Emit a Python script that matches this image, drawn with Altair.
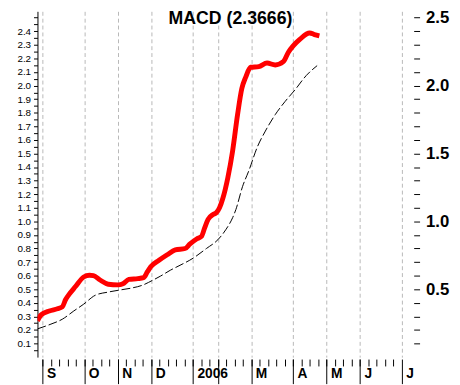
import altair as alt
import pandas as pd

# MACD line (red), x in weeks from start of September
red_weeks = [-0.62, -0.19, 0.79, 1.76, 2.35, 2.75, 3.14, 3.93, 4.91, 5.61, 6.08, 6.87, 7.85,
             9.02, 9.61, 10.32, 11.38, 12.08, 12.55, 12.94, 13.93, 14.91, 15.88, 17.06, 17.65,
             18.44, 19.02, 19.41, 19.81, 20.40, 20.79, 21.18, 21.58, 22.17, 22.75, 23.34, 23.85,
             24.32, 24.91, 25.88, 26.87, 27.85, 28.82, 29.41, 30.00, 30.79, 31.97, 32.55, 33.14]
red_vals = [0.267, 0.311, 0.340, 0.356, 0.370, 0.424, 0.460, 0.520, 0.590, 0.603, 0.600, 0.568, 0.537,
            0.532, 0.540, 0.572, 0.578, 0.585, 0.629, 0.665, 0.713, 0.754, 0.790, 0.800, 0.834,
            0.870, 0.889, 0.954, 1.014, 1.050, 1.063, 1.100, 1.170, 1.320, 1.520, 1.786, 1.978,
            2.063, 2.135, 2.140, 2.166, 2.152, 2.176, 2.244, 2.292, 2.340, 2.388, 2.376, 2.3666]

# Signal line (black dashed)
sig_weeks = [-0.62, 0.99, 2.35, 3.73, 4.91, 6.28, 7.85, 9.22, 10.59, 11.97, 13.14, 14.12, 15.29,
             16.08, 18.05, 19.61, 20.99, 21.97, 22.75, 23.14, 23.93, 24.71, 25.69, 26.67, 27.85,
             29.02, 30.20, 31.58, 32.87]
sig_vals = [0.208, 0.243, 0.279, 0.340, 0.390, 0.455, 0.479, 0.494, 0.508, 0.530, 0.565, 0.597, 0.640,
            0.665, 0.730, 0.800, 0.865, 0.942, 1.027, 1.087, 1.255, 1.376, 1.545, 1.665, 1.786,
            1.882, 1.967, 2.075, 2.147]

# month boundaries (week index) and their labels
month_pos = [0, 5, 9, 13, 18, 21, 25, 30, 34, 38, 43]
month_labels = ["S", "O", "N", "D", "2006", "", "M", "A", "M", "J", "J"]
week_ticks = list(range(0, 43))

left_ticks = [round(0.05 * i, 2) for i in range(1, 51)]
right_ticks = [round(0.1 * i, 1) for i in range(1, 26)]

red_df = pd.DataFrame({"week": red_weeks, "value": red_vals})
sig_df = pd.DataFrame({"week": sig_weeks, "value": sig_vals})

FONT = "Liberation Sans"
xscale = alt.Scale(domain=[-0.624, 44.435], nice=False, zero=False)
yscale = alt.Scale(domain=[0, 2.547], nice=False, zero=False)

pos_str = "[" + ",".join(str(p) for p in month_pos) + "]"
lab_str = "[" + ",".join("'" + l + "'" for l in month_labels) + "]"

major_x = alt.Axis(
    orient="bottom", values=month_pos, title=None, domain=False, offset=2,
    ticks=True, tickSize=25, tickColor="black", tickWidth=1,
    grid=True, gridColor="#b8b8b8", gridDash=[4, 3], gridWidth=1,
    labelExpr=f"{lab_str}[indexof({pos_str}, datum.value)]",
    labelFont=FONT, labelFontSize=14, labelFontWeight="bold", labelColor="black",
    labelAlign="left", labelBaseline="top", labelOffset=4, labelPadding=-17,
    labelOverlap=False, labelFlush=False, labelBound=False,
)
minor_x = alt.Axis(
    orient="bottom", values=week_ticks, title=None, domain=False, offset=2,
    ticks=True, tickSize=7, tickColor="black", tickWidth=1, grid=False, labels=False,
)
left_y = alt.Axis(
    orient="left", values=left_ticks, title=None, domain=True, domainColor="black", domainWidth=1,
    ticks=True, tickSize=4, tickColor="black", grid=False,
    labelExpr="(abs(datum.value*10 - round(datum.value*10)) < 0.01 && datum.value < 2.45) ? format(datum.value, '.1f') : ''",
    labelFont=FONT, labelFontSize=10, labelColor="black", labelPadding=3,
    labelOverlap=False, labelFlush=False, labelBound=False,
)
right_y = alt.Axis(
    orient="right", values=right_ticks, title=None, domain=False,
    ticks=True, tickSize=6, tickColor="black", grid=False,
    labelExpr="abs(datum.value*2 - round(datum.value*2)) < 0.01 ? format(datum.value, '.1f') : ''",
    labelFont=FONT, labelFontSize=17, labelFontWeight="bold", labelColor="black", labelPadding=6,
    labelBaseline="middle", labelOverlap=False, labelFlush=False, labelBound=False,
)

signal = alt.Chart(sig_df).mark_line(
    color="black", strokeWidth=1, strokeDash=[9, 3], interpolate="monotone", clip=True
).encode(
    x=alt.X("week:Q", scale=xscale, axis=minor_x),
    y=alt.Y("value:Q", scale=yscale, axis=right_y),
)

macd = alt.Chart(red_df).mark_line(
    color="#ff0000", strokeWidth=5, interpolate="monotone", clip=True, strokeJoin="round"
).encode(
    x=alt.X("week:Q", scale=xscale, axis=major_x),
    y=alt.Y("value:Q", scale=yscale, axis=left_y),
)

chart = alt.layer(signal, macd).resolve_axis(x="independent", y="independent").properties(
    width=383, height=352,
    title=alt.TitleParams(text="MACD (2.3666)", font=FONT, fontSize=18, fontWeight="bold",
                          color="black", anchor="middle", dx=5, baseline="top", offset=-19),
    autosize=alt.AutoSizeParams(type="none"),
    padding={"left": 30, "top": 0, "right": 39, "bottom": 25},
    background="white",
).configure_view(stroke=None)

chart.save("out.html", embed_options={"renderer": "svg", "actions": False})
